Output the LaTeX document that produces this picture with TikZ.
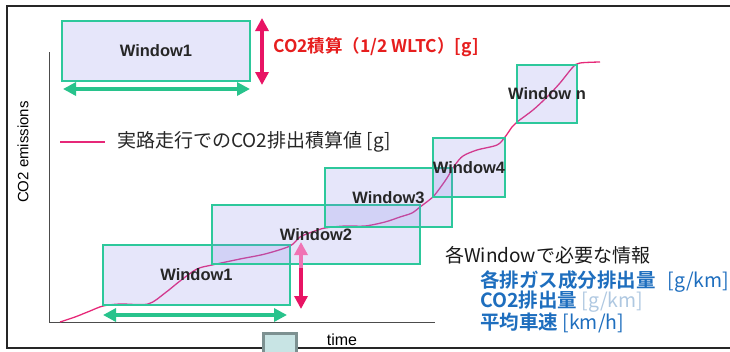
\documentclass[tikz,border=0pt]{standalone}
\usepackage{fontspec}
\setmainfont{Liberation Sans}
\newfontfamily\jp{Noto Sans CJK JP}[BoldFont={Noto Sans CJK JP Bold}]
\usetikzlibrary{arrows.meta}
\definecolor{teal1}{RGB}{45,200,155}
\definecolor{boxfill}{RGB}{130,130,230}
\definecolor{curvepink}{RGB}{230,40,120}
\definecolor{arrpink}{RGB}{232,20,100}
\definecolor{lightpink}{RGB}{240,115,180}
\definecolor{redtxt}{RGB}{230,30,30}
\definecolor{bluetxt}{RGB}{30,110,190}
\definecolor{greyblue}{RGB}{175,200,225}
\definecolor{arrgreen}{RGB}{40,195,140}
\definecolor{sqborder}{RGB}{125,145,145}
\definecolor{sqfill}{RGB}{200,228,228}
\begin{document}
\begin{tikzpicture}[x=1pt,y=-1pt,
  winbox/.style={draw=teal1, line width=1.6pt, fill=boxfill, fill opacity=0.2, draw opacity=1, inner sep=0pt, outer sep=0pt},
  winlbl/.style={font=\fontsize{16.5}{18}\selectfont\bfseries, text=black!85, inner sep=0pt},
  tipg/.tip={Triangle[length=13pt,width=13pt]},
  dblgreen/.style={draw=arrgreen, line width=3.5pt, tipg-tipg, shorten <=0pt},
  pinkarr/.style={line width=3.5pt, -tipg},
  curveline/.style={draw=curvepink, line width=1.3pt},
  axisline/.style={draw=black!70, line width=1pt},
  txt/.style={inner sep=0pt, anchor=west}
]
\useasboundingbox (0,0) rectangle (730,351);
% frame
\draw[line width=1.8pt, black!85] (731,6) -- (7,6) -- (7,348) -- (731,348);
% axes
\coordinate (ytop) at (49,52);
\coordinate (orig) at (49,322);
\coordinate (xend) at (435,322);
\draw[axisline] (ytop) -- (orig) -- (xend);
\node[rotate=90, inner sep=0pt, font=\fontsize{15}{17}\selectfont] (ylab) at (23,152) {CO2 emissions};
\node[inner sep=0pt, font=\fontsize{16}{18}\selectfont] (time) at (342,340) {time};
% curve
\draw[curveline] plot[smooth, tension=0.5] coordinates {
(60,322) (75,317) (90,311) (103,306) (120,304) (148,304) (165,293) (180,281) (197,269) (212,265) (240,259) (265,254) (290,246) (300,237) (312,232) (325,228) (345,226) (365,226) (385,222) (400,217) (412,213) (420,207) (428,201) (433,197) (440,188) (447,178) (455,165) (463,156) (477,150) (497,145) (505,137) (512,127) (517,122) (533,110) (547,97) (560,83) (573,67) (580,63) (600,62)};
% windows
\node[winbox, minimum width=187pt, minimum height=60pt] (w1) at (196.5,275) {};
\node[winbox, minimum width=208pt, minimum height=59pt] (w2) at (316,234.5) {};
\node[winbox, minimum width=127pt, minimum height=59pt] (w3) at (388.5,197.5) {};
\node[winbox, minimum width=72pt, minimum height=59pt] (w4) at (469,167.5) {};
\node[winbox, minimum width=60pt, minimum height=58pt] (wn) at (547,94) {};
\node[winlbl] (l1) at (w1.center) {Window1};
\node[winlbl] (l2) at (w2.center) {Window2};
\node[winlbl] (l3) at (w3.center) {Window3};
\node[winlbl] (l4) at (w4.center) {Window4};
\node[winlbl] (ln) at (wn.center) {Window n};
% bottom arrows
\coordinate (bg1) at (103,315);
\coordinate (bg2) at (287,315);
\draw[dblgreen] (bg1) -- (bg2);
\coordinate (bptop) at (301,242);
\coordinate (bpmid) at (301,276);
\coordinate (bpmid2) at (301,268);
\coordinate (bpbot) at (301,309);
\draw[pinkarr, lightpink] (bpmid) -- (bptop);
\draw[pinkarr, arrpink] (bpmid2) -- (bpbot);
% top legend window
\node[winbox, minimum width=188pt, minimum height=60pt] (tw) at (156,51) {};
\node[winlbl] (tl) at (tw.center) {Window1};
\coordinate (tg1) at (63,89);
\coordinate (tg2) at (250,89);
\draw[dblgreen] (tg1) -- (tg2);
\coordinate (tp1) at (262,18);
\coordinate (tp2) at (262,85);
\draw[line width=3.5pt, arrpink, tipg-tipg] (tp1) -- (tp2);
\node[txt, text=redtxt, font=\jp\bfseries\fontsize{17.5}{19}\selectfont] (redt) at (273,47) {CO2積算（1/2 WLTC）[g]};
% curve legend
\coordinate (lg1) at (60,142);
\coordinate (lg2) at (105,142);
\draw[curveline] (lg1) -- (lg2);
\node[txt, font=\jp\fontsize{19}{21}\selectfont, text=black!85] (lgt) at (117,142) {実路走行でのCO2排出積算値 [g]};
% small square
\node[draw=sqborder, line width=3pt, fill=sqfill, minimum width=33pt, minimum height=22pt, inner sep=0pt] (sq) at (280,344.5) {};
% info text
\node[txt, font=\jp\fontsize{19}{21}\selectfont, text=black!90] (info) at (445,255) {各Windowで必要な情報};
\node[txt, font=\jp\fontsize{19.5}{21}\selectfont, text=bluetxt] (i1) at (480,282) {\bfseries 各排ガス成分排出量\hspace{12pt}\mdseries[g/km]};
\node[txt, font=\jp\fontsize{19.5}{21}\selectfont, text=bluetxt] (i2) at (480,302) {\bfseries CO2排出量 \mdseries\textcolor{greyblue}{[g/km]}};
\node[txt, font=\jp\fontsize{19.5}{21}\selectfont, text=bluetxt] (i3) at (480,323) {\bfseries 平均車速 \mdseries[km/h]};
\end{tikzpicture}
\end{document}
